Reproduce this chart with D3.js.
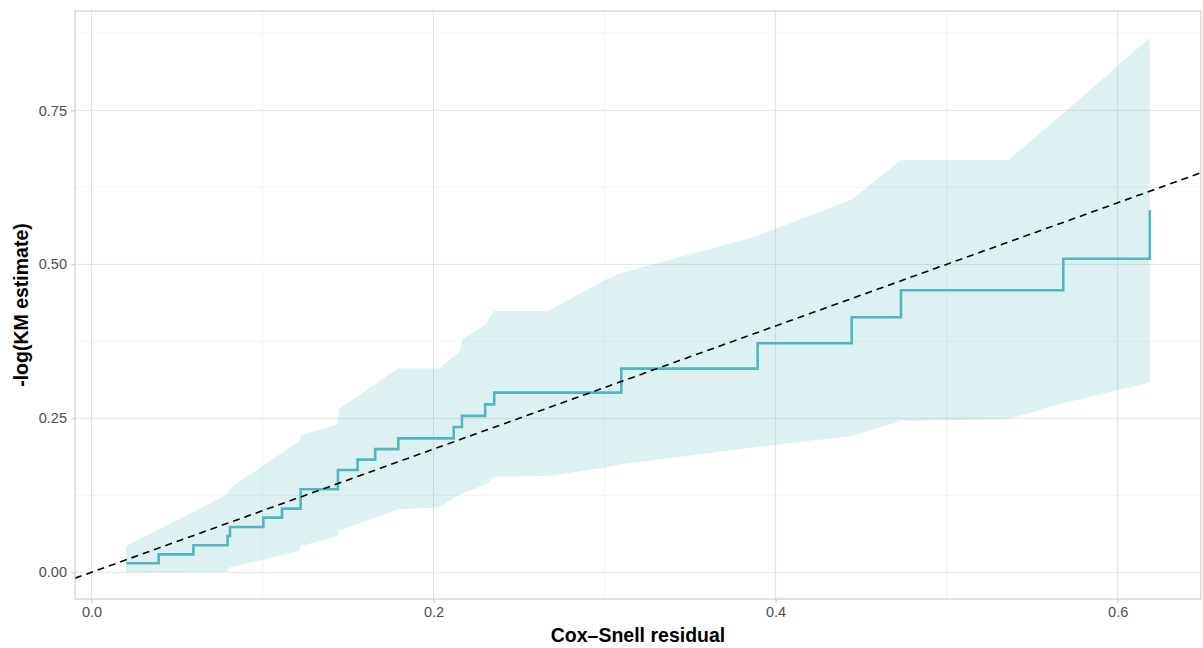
<!DOCTYPE html>
<html>
<head>
<meta charset="utf-8">
<script src="https://cdn.jsdelivr.net/npm/d3@7"></script>
<style>
  body { margin: 0; background: #fff; }
  svg { display: block; font-family: "Liberation Sans", Arial, sans-serif; }
</style>
</head>
<body>
<svg id="chart"></svg>
<script>
// Kaplan-Meier step of the Cox-Snell residuals (time, -log(KM))
const stepTime = [0.0203, 0.0393, 0.0596, 0.0796, 0.0810, 0.1005, 0.1114, 0.1223, 0.1441, 0.1556, 0.1659,
    0.1794, 0.2118, 0.2166, 0.2302, 0.2355, 0.3098, 0.3895, 0.4445, 0.4733, 0.5682, 0.6188]
const stepHazard = [0.0146, 0.029, 0.044, 0.059, 0.0736, 0.0888, 0.1034, 0.1347, 0.166, 0.183, 0.200,
    0.2175, 0.236, 0.254, 0.2727, 0.2917, 0.3307, 0.372, 0.414, 0.458, 0.509, 0.588]

// Confidence band around the estimate
const bandTime = [0.0203, 0.0796, 0.0806, 0.1215, 0.1225, 0.1439, 0.1445, 0.1790, 0.2033, 0.2155, 0.2169,
    0.2306, 0.2355, 0.2670, 0.3007, 0.3100, 0.3880, 0.4445, 0.4734, 0.5360, 0.5697, 0.6188]
const bandLower = [0.0, 0.0005, 0.0076, 0.0346, 0.0427, 0.0589, 0.0670, 0.1023, 0.1050, 0.1266, 0.128,
    0.1429, 0.1554, 0.1563, 0.170, 0.1753, 0.203, 0.2213, 0.2456, 0.2484, 0.2755, 0.308]
const bandUpper = [0.0427, 0.1266, 0.1359, 0.2131, 0.2224, 0.2403, 0.2646, 0.3307, 0.3307, 0.3593, 0.3782,
    0.4026, 0.4242, 0.4242, 0.4756, 0.4865, 0.545, 0.6055, 0.6693, 0.6693, 0.7489, 0.868]

const xTicks = [0, 0.2, 0.4, 0.6]
const yTicks = [0, 0.25, 0.5, 0.75]
const xMinor = [0.1, 0.3, 0.5]
const yMinor = [0.125, 0.375, 0.625, 0.875]

const width = 1203
const height = 648
// panel box in pixels
const panel = { left: 75, right: 1201, top: 11, bottom: 599 }

const svg = d3.select('#chart')
    .attr('width', width)
    .attr('height', height)

svg.append('rect').attr('width', width).attr('height', height).attr('fill', '#fff')

// ggplot style 5% expansion of the data range
function expand(ext) {
    const pad = (ext[1] - ext[0]) * 0.05
    return [ext[0] - pad, ext[1] + pad]
}
const xExt = d3.extent(bandTime.concat(stepTime))
const yExt = d3.extent(bandLower.concat(bandUpper, stepHazard))

const x = d3.scaleLinear().domain(expand(xExt)).range([panel.left, panel.right])
const y = d3.scaleLinear().domain(expand(yExt)).range([panel.bottom, panel.top])

svg.append('clipPath').attr('id', 'clip')
    .append('rect')
    .attr('x', panel.left).attr('y', panel.top)
    .attr('width', panel.right - panel.left).attr('height', panel.bottom - panel.top)

const plot = svg.append('g').attr('clip-path', 'url(#clip)')

// minor grid
plot.selectAll('.xminor').data(xMinor).enter().append('line')
    .attr('x1', d => x(d)).attr('x2', d => x(d))
    .attr('y1', panel.top).attr('y2', panel.bottom)
    .attr('stroke', '#f0f0f0').attr('stroke-width', 0.8)
plot.selectAll('.yminor').data(yMinor).enter().append('line')
    .attr('y1', d => y(d)).attr('y2', d => y(d))
    .attr('x1', panel.left).attr('x2', panel.right)
    .attr('stroke', '#f0f0f0').attr('stroke-width', 0.8)

// major grid
plot.selectAll('.xmajor').data(xTicks).enter().append('line')
    .attr('x1', d => x(d)).attr('x2', d => x(d))
    .attr('y1', panel.top).attr('y2', panel.bottom)
    .attr('stroke', '#e2e2e2').attr('stroke-width', 1)
plot.selectAll('.ymajor').data(yTicks).enter().append('line')
    .attr('y1', d => y(d)).attr('y2', d => y(d))
    .attr('x1', panel.left).attr('x2', panel.right)
    .attr('stroke', '#e2e2e2').attr('stroke-width', 1)

// confidence ribbon
const band = bandTime.map((t, i) => ({ t: t, lo: bandLower[i], hi: bandUpper[i] }))
plot.append('path')
    .datum(band)
    .attr('fill', '#5bb8bd')
    .attr('fill-opacity', 0.2)
    .attr('d', d3.area().x(d => x(d.t)).y0(d => y(d.lo)).y1(d => y(d.hi)))

// KM step line
const steps = stepTime.map((t, i) => ({ t: t, h: stepHazard[i] }))
plot.append('path')
    .datum(steps)
    .attr('fill', 'none')
    .attr('stroke', '#4fb8be')
    .attr('stroke-width', 2.6)
    .attr('d', d3.line().x(d => x(d.t)).y(d => y(d.h)).curve(d3.curveStepAfter))

// reference line y = x
const dom = x.domain()
plot.append('line')
    .attr('x1', x(dom[0])).attr('y1', y(dom[0]))
    .attr('x2', x(dom[1])).attr('y2', y(dom[1]))
    .attr('stroke', '#000')
    .attr('stroke-width', 1.6)
    .attr('stroke-dasharray', '7,5')

// panel border
svg.append('rect')
    .attr('x', panel.left).attr('y', panel.top)
    .attr('width', panel.right - panel.left).attr('height', panel.bottom - panel.top)
    .attr('fill', 'none').attr('stroke', '#c4c4c4').attr('stroke-width', 1)

// axes
const xAxis = d3.axisBottom(x).tickValues(xTicks).tickFormat(d3.format('.1f')).tickSize(4).tickPadding(4)
const yAxis = d3.axisLeft(y).tickValues(yTicks).tickFormat(d3.format('.2f')).tickSize(4).tickPadding(4)

const gx = svg.append('g').attr('transform', `translate(0,${panel.bottom})`).call(xAxis)
const gy = svg.append('g').attr('transform', `translate(${panel.left},0)`).call(yAxis)
;[gx, gy].forEach(g => {
    g.select('.domain').remove()
    g.selectAll('line').attr('stroke', '#c4c4c4')
    g.selectAll('text').attr('fill', '#4d4d4d').attr('font-size', 14.5)
        .attr('font-family', '"Liberation Sans", Arial, sans-serif')
})

// axis titles
svg.append('text')
    .attr('x', (panel.left + panel.right) / 2)
    .attr('y', 642)
    .attr('text-anchor', 'middle')
    .attr('font-size', 19.5)
    .attr('font-weight', 'bold')
    .text('Cox–Snell residual')

svg.append('text')
    .attr('transform', `translate(28,${(panel.top + panel.bottom) / 2}) rotate(-90)`)
    .attr('text-anchor', 'middle')
    .attr('font-size', 19.5)
    .attr('font-weight', 'bold')
    .text('-log(KM estimate)')
</script>
</body>
</html>
